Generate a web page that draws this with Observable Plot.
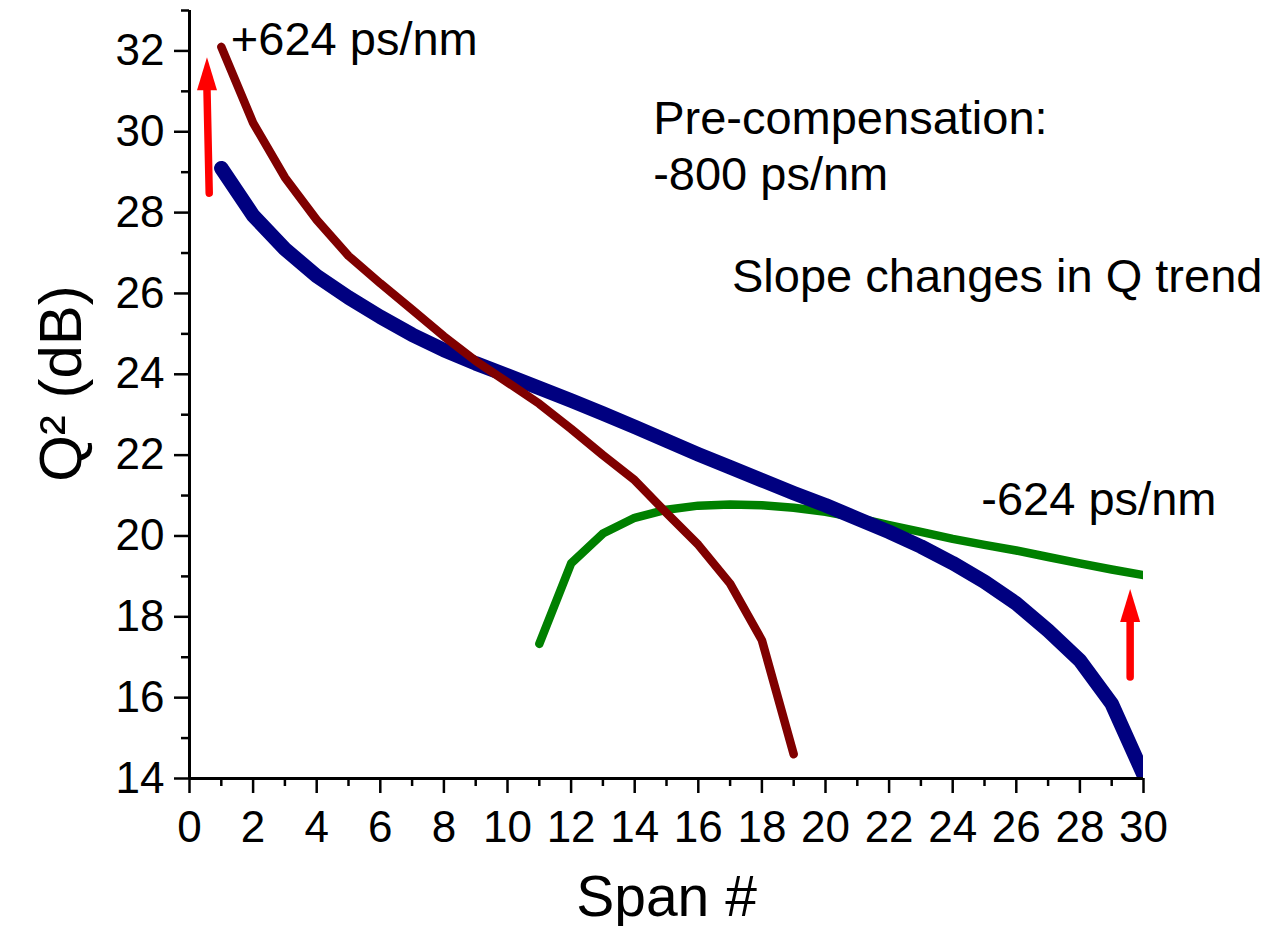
<!DOCTYPE html>
<html>
<head>
<meta charset="utf-8">
<script src="https://cdn.jsdelivr.net/npm/d3@7"></script>
<script src="https://cdn.jsdelivr.net/npm/@observablehq/plot@0.6"></script>
<style>
  html, body { margin: 0; padding: 0; background: #fff; }
</style>
</head>
<body>
<div id="chart"></div>
<script>
// ---- Data ----
const spanPre = [1,2,3,4,5,6,7,8,9,10,11,12,13,14,15,16,17,18,19,20,21,22,23,24,25,26,27,28,29,30];
const qPre800 = [29.1,27.93,27.1,26.43,25.9,25.42,24.98,24.6,24.27,23.97,23.66,23.35,23.03,22.7,22.36,22.02,21.7,21.38,21.06,20.76,20.43,20.1,19.74,19.33,18.87,18.33,17.66,16.92,15.85,14.1];

const spanPlus = [1,2,3,4,5,6,7,8,9,10,11,12,13,14,15,16,17,18,19];
const qPlus624 = [32.1,30.22,28.87,27.82,26.93,26.25,25.6,24.94,24.33,23.8,23.27,22.65,22.0,21.38,20.57,19.78,18.82,17.42,14.6];

const spanMinus = [11,12,13,14,15,16,17,18,19,20,21,22,23,24,25,26,27,28,29,30];
const qMinus624 = [17.33,19.32,20.06,20.45,20.65,20.75,20.78,20.76,20.7,20.6,20.45,20.27,20.1,19.93,19.78,19.64,19.48,19.32,19.17,19.03];

const xMajorTicks = [0,2,4,6,8,10,12,14,16,18,20,22,24,26,28,30];
const xMinorTicks = [1,3,5,7,9,11,13,15,17,19,21,23,25,27,29];
const yMajorTicks = [14,16,18,20,22,24,26,28,30,32];
const yMinorTicks = [15,17,19,21,23,25,27,29,31,33];

// annotation texts and their anchors (data units)
const noteText = ["+624 ps/nm", "Pre-compensation:", "-800 ps/nm", "Slope changes in Q trend", "-624 ps/nm"];
const noteSpan = [1.3, 14.58, 14.58, 17.06, 24.9];
const noteQ    = [31.9, 29.94, 28.56, 26.03, 20.51];

// red arrows (data units): shaft bottom -> head base
const arrowX1 = [0.62, 29.58];
const arrowX2 = [0.55, 29.58];
const arrowY1 = [28.48, 16.51];
const arrowY2 = [31.03, 17.87];

// ---- Build tables ----
const rowsPre = spanPre.map((s, i) => ({span: s, q: qPre800[i]}));
const rowsPlus = spanPlus.map((s, i) => ({span: s, q: qPlus624[i]}));
const rowsMinus = spanMinus.map((s, i) => ({span: s, q: qMinus624[i]}));
const notes = noteText.map((t, i) => ({t, x: noteSpan[i], y: noteQ[i]}));
const arrows = arrowX1.map((x1, i) => ({x1, x2: arrowX2[i], y1: arrowY1[i], y2: arrowY2[i]}));

// filled arrow head symbol (tip pointing up from its base)
const headSymbol = {
  draw(context) {
    context.moveTo(0, -33);
    context.lineTo(10, 0);
    context.lineTo(-10, 0);
    context.closePath();
  }
};

const chart = Plot.plot({
  width: 1274,
  height: 926,
  marginLeft: 189,
  marginRight: 131,
  marginTop: 10,
  marginBottom: 148,
  x: {domain: [0, 30]},
  y: {domain: [14, 33]},
  style: {
    fontFamily: "'Liberation Sans', Arial, Helvetica, sans-serif",
    color: "#000",
    background: "#fff",
    overflow: "visible"
  },
  marks: [
    // series
    Plot.line(rowsMinus, {x: "span", y: "q", stroke: "#008000", strokeWidth: 8.5,
      strokeLinecap: "round", strokeLinejoin: "round", clip: true}),
    Plot.line(rowsPre, {x: "span", y: "q", stroke: "#000080", strokeWidth: 14.5,
      strokeLinecap: "round", strokeLinejoin: "round", clip: true}),
    Plot.line(rowsPlus, {x: "span", y: "q", stroke: "#800000", strokeWidth: 8.5,
      strokeLinecap: "round", strokeLinejoin: "round", clip: true}),

    // arrows
    Plot.link(arrows, {x1: "x1", y1: "y1", x2: "x2", y2: "y2", stroke: "#ff0000",
      strokeWidth: 7.5, strokeLinecap: "round"}),
    Plot.dot(arrows, {x: "x2", y: "y2", symbol: headSymbol, fill: "#ff0000", stroke: "none", r: 5}),

    // axes lines
    Plot.ruleX([0], {stroke: "#000", strokeWidth: 3}),
    Plot.ruleY([14], {stroke: "#000", strokeWidth: 3}),

    // ticks
    Plot.axisX({ticks: xMajorTicks, tickSize: 15, tickPadding: 17, fontSize: 44,
      strokeWidth: 2.5, label: null, tickFormat: d => String(d)}),
    Plot.axisX({ticks: xMinorTicks, tickSize: 8, strokeWidth: 2.5, text: null, label: null}),
    Plot.axisY({ticks: yMajorTicks, tickSize: 15, tickPadding: 10, fontSize: 44,
      strokeWidth: 2.5, label: null, tickFormat: d => String(d)}),
    Plot.axisY({ticks: yMinorTicks, tickSize: 8, strokeWidth: 2.5, text: null, label: null}),

    // axis titles
    Plot.text(["Span #"], {text: d => d, frameAnchor: "bottom", dy: 137, lineAnchor: "bottom",
      fontSize: 57, fill: "#000"}),
    Plot.text(["Q\u00B2 (dB)"], {text: d => d, frameAnchor: "left", dx: -109, dy: -11, rotate: -90,
      lineAnchor: "bottom", textAnchor: "middle", fontSize: 60, fill: "#000"}),

    // annotations
    Plot.text(notes, {x: "x", y: "y", text: "t", textAnchor: "start", lineAnchor: "bottom",
      fontSize: 47, fill: "#000"})
  ]
});

document.getElementById("chart").appendChild(chart);
</script>
</body>
</html>
